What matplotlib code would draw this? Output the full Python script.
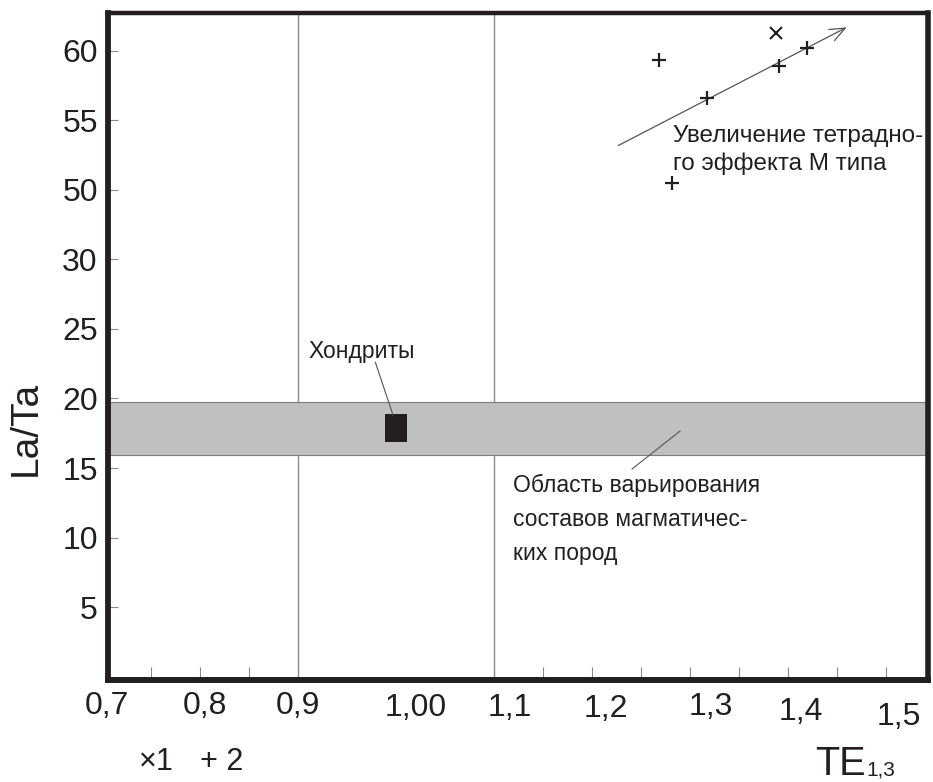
import numpy as np
import matplotlib
matplotlib.use("Agg")
import matplotlib.pyplot as plt
from matplotlib import transforms

plt.rcParams['font.family'] = ['Liberation Sans', 'DejaVu Sans']

# ---------------- data ----------------
# x axis (TE1,3)
x_tick_vals = [0.7, 0.8, 0.9, 1.0, 1.1, 1.2, 1.3, 1.4, 1.5]
x_tick_labels = ['0,7', '0,8', '0,9', '1,00', '1,1', '1,2', '1,3', '1,4', '1,5']
x_minor_ticks = [0.75, 0.8, 0.85, 1.15, 1.2, 1.25, 1.3, 1.35, 1.4, 1.45, 1.5]
x_ref_lines = [0.9, 1.1]

# y axis (La/Ta) - broken scale, labels equally spaced
y_tick_vals = [5, 10, 15, 20, 25, 30, 50, 55, 60]
y_scale_vals = [-5, 0, 5, 10, 15, 20, 25, 30, 50, 55, 60, 65, 70]
y_scale_idx = [-1, 0, 1, 2, 3, 4, 5, 6, 7, 8, 9, 10, 11]

# series 1 (x marker)
s1_x = [1.388]
s1_y = [61.3]
# series 2 (+ marker)
s2_x = [1.268, 1.419, 1.391, 1.317, 1.282]
s2_y = [59.35, 60.2, 58.9, 56.6, 50.5]

# chondrites
chond_x = [1.0]
chond_y = [17.9]

# band of magmatic rock compositions
band_low, band_high = 15.9, 19.75

# arrow (increase of M-type tetrad effect)
arrow_start = (1.227, 53.2)
arrow_end = (1.460, 61.7)

# ---------------- figure ----------------
W, H = 933, 782
fig = plt.figure(figsize=(W / 100, H / 100), dpi=100)
ax_l, ax_r, ax_t, ax_b = 107.5, 928, 13, 680
ax = fig.add_axes([ax_l / W, 1 - ax_b / H, (ax_r - ax_l) / W, (ax_b - ax_t) / H])

ink = '#231f20'


def fwd(v):
    return np.interp(v, y_scale_vals, y_scale_idx)


def inv(i):
    return np.interp(i, y_scale_idx, y_scale_vals)


ax.set_yscale('function', functions=(fwd, inv))
ax.set_xlim(0.7056, 1.543)
ax.set_ylim(-0.25, 62.73)

# spines
for side, lw in [('left', 4.2), ('bottom', 4.3), ('right', 4.0), ('top', 3.2)]:
    ax.spines[side].set_linewidth(lw)
    ax.spines[side].set_color(ink)

# y ticks
ax.set_yticks(y_tick_vals)
ax.set_yticklabels([str(v) for v in y_tick_vals])
ax.yaxis.set_minor_locator(matplotlib.ticker.NullLocator())
ax.tick_params(axis='y', direction='in', length=7.5, width=0.8, color='#8a8a8a',
               labelsize=23, pad=7, labelcolor=ink)

# x ticks: minor tick marks only, labels placed manually
ax.set_xticks(x_minor_ticks)
ax.set_xticklabels([])
ax.tick_params(axis='x', direction='in', length=9.5, width=0.8, color='#8a8a8a')

# x tick labels with small per-label offsets (as in the drawing)
lab_dx = [4.5, 4.5, 0, 20, 16, 14, 21, 13, 12.5]
lab_base = [714, 714, 714, 716, 716, 717, 715, 720, 725]
for v, lab, dx, base in zip(x_tick_vals, x_tick_labels, lab_dx, lab_base):
    tr = transforms.offset_copy(ax.get_xaxis_transform(), fig=fig,
                                x=dx, y=-(base - ax_b), units='dots')
    ax.text(v, 0, lab, transform=tr, ha='center', va='baseline',
            fontsize=23, color=ink, clip_on=False)

# reference vertical lines
for xv in x_ref_lines:
    ax.axvline(xv, color='#8a8a8a', lw=1.0, zorder=1)

# band
ax.axhspan(band_low, band_high, facecolor='#c0c0c0', edgecolor='#7d7d7d',
           lw=0.8, zorder=2)

# chondrite square
sq = [(-0.41, -0.5), (0.41, -0.5), (0.41, 0.5), (-0.41, 0.5), (-0.41, -0.5)]
ax.plot(chond_x, chond_y, linestyle='none', marker=sq, markersize=19.5,
        color=ink, markeredgewidth=0, zorder=4)

# arrow
ax.annotate('', xy=arrow_end, xytext=arrow_start,
            arrowprops=dict(arrowstyle='->,head_length=1.1,head_width=0.45',
                            color='#555555', lw=0.9, shrinkA=0, shrinkB=0),
            zorder=3)

# points
ax.plot(s2_x, s2_y, linestyle='none', marker='+', markersize=9.5,
        markeredgewidth=1.6, color=ink, zorder=5)
ax.plot(s1_x, s1_y, linestyle='none', marker='x', markersize=8.5,
        markeredgewidth=1.5, color=ink, zorder=5)

# leader lines
ax.plot([0.979, 0.997], [22.6, 18.8], color='#555555', lw=0.8, zorder=5)
ax.plot([1.241, 1.290], [14.93, 17.66], color='#555555', lw=0.8, zorder=5)

# annotations
ann_fs = 16.5
ax.text(0.911, 22.9, 'Хондриты', fontsize=ann_fs, color=ink, va='baseline', ha='left')
for txt, yv in [('Область варьирования', 13.27),
                ('составов магматичес-', 10.83),
                ('ких пород', 8.38)]:
    ax.text(1.119, yv, txt, fontsize=ann_fs, color=ink, va='baseline', ha='left')
for txt, yv in [('Увеличение тетрадно-', 53.45),
                ('го эффекта М типа', 51.44)]:
    ax.text(1.283, yv, txt, fontsize=17.5, color=ink, va='baseline', ha='left',
            clip_on=False)

# axis titles
fig.text(26 / W, 1 - 428 / H, 'La/Ta', rotation=90, fontsize=28, color=ink,
         ha='center', va='center')
fig.text(815 / W, 1 - 775 / H, 'TE', fontsize=28.5, color=ink, ha='left', va='baseline')
fig.text(866 / W, 1 - 775 / H, '1,3', fontsize=15, color=ink, ha='left', va='baseline')

# legend
fig.text(139 / W, 1 - 770 / H, '×1', fontsize=22, color=ink, ha='left', va='baseline')
fig.text(200 / W, 1 - 770 / H, '+ 2', fontsize=22, color=ink, ha='left', va='baseline')

fig.savefig('out.png', dpi=100)
